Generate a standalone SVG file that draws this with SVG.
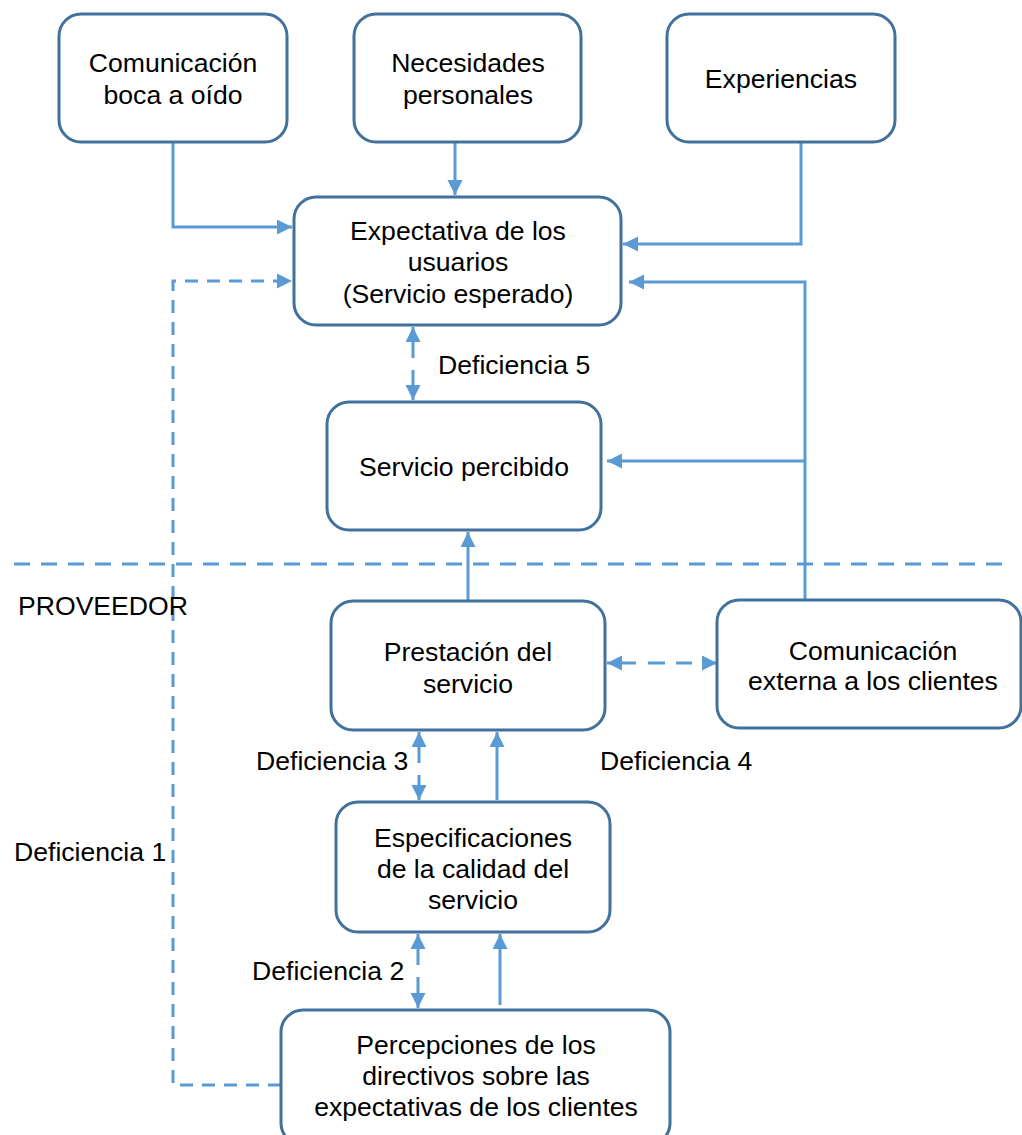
<svg xmlns="http://www.w3.org/2000/svg" width="1022" height="1135" viewBox="0 0 1022 1135">
<style>
.box{fill:#FFFFFF;stroke:#41719C;stroke-width:3}
.t{font-family:"Liberation Sans",Arial,sans-serif;font-size:26.6px;fill:#000000}
.c{text-anchor:middle}
.ln{fill:none;stroke:#5B9BD5;stroke-width:3}
.d{stroke-dasharray:13 9}
</style>
<defs>
<marker id="ah" markerUnits="userSpaceOnUse" markerWidth="16" markerHeight="16" refX="15" refY="7.5" orient="auto-start-reverse" viewBox="0 0 16 16">
<path d="M0,0 L15,7.5 L0,15 Z" fill="#5B9BD5"/>
</marker>
</defs>
<rect width="1022" height="1135" fill="#FFFFFF"/>
<g id="connectors">
<polyline class="ln" points="173,142 173,227 292,227" marker-end="url(#ah)"/>
<polyline class="ln d" points="281,1085 173,1085 173,281 292,281" marker-end="url(#ah)"/>
<line class="ln" x1="455" y1="142" x2="455" y2="195" marker-end="url(#ah)"/>
<polyline class="ln" points="801,142 801,244 623,244" marker-end="url(#ah)"/>
<polyline class="ln" points="805,600 805,282 629,282" marker-end="url(#ah)"/>
<line class="ln" x1="805" y1="461" x2="607" y2="461" marker-end="url(#ah)"/>
<line class="ln" x1="413" y1="327" x2="413" y2="400" style="stroke-dasharray:31 12" marker-start="url(#ah)" marker-end="url(#ah)"/>
<line class="ln" x1="468" y1="601" x2="468" y2="532" marker-end="url(#ah)"/>
<line class="ln" x1="14" y1="564" x2="1002" y2="564" style="stroke-dasharray:16 11"/>
<line class="ln" x1="607" y1="663" x2="717" y2="663" style="stroke-dasharray:29 12 17 11 16 12 20" marker-start="url(#ah)" marker-end="url(#ah)"/>
<line class="ln" x1="419" y1="732" x2="419" y2="800" style="stroke-dasharray:31 12" marker-start="url(#ah)" marker-end="url(#ah)"/>
<line class="ln" x1="497" y1="800" x2="497" y2="732" marker-end="url(#ah)"/>
<line class="ln" x1="418" y1="934" x2="418" y2="1008" style="stroke-dasharray:31 12" marker-start="url(#ah)" marker-end="url(#ah)"/>
<line class="ln" x1="500" y1="1005" x2="500" y2="934" marker-end="url(#ah)"/>
</g>
<g id="n1"><rect class="box" x="59" y="14" width="228" height="128" rx="22"/>
<text class="t c" x="173" y="72">Comunicación</text><text class="t c" x="173" y="104">boca a oído</text></g>
<g id="n2"><rect class="box" x="354" y="14" width="227" height="128" rx="22"/>
<text class="t c" x="468" y="72">Necesidades</text><text class="t c" x="468" y="104">personales</text></g>
<g id="n3"><rect class="box" x="667" y="14" width="228" height="128" rx="22"/>
<text class="t c" x="781" y="88">Experiencias</text></g>
<g id="n4"><rect class="box" x="294" y="197" width="327" height="128" rx="22"/>
<text class="t c" x="458" y="240">Expectativa de los</text><text class="t c" x="458" y="271">usuarios</text><text class="t c" x="458" y="303">(Servicio esperado)</text></g>
<g id="n5"><rect class="box" x="327" y="402" width="274" height="128" rx="22"/>
<text class="t c" x="464" y="476">Servicio percibido</text></g>
<g id="n6"><rect class="box" x="331" y="601" width="274" height="129" rx="22"/>
<text class="t c" x="468" y="661">Prestación del</text><text class="t c" x="468" y="693">servicio</text></g>
<g id="n7"><rect class="box" x="717" y="600" width="304" height="128" rx="22"/>
<text class="t c" x="873" y="660">Comunicación</text><text class="t c" x="873" y="690">externa a los clientes</text></g>
<g id="n8"><rect class="box" x="336" y="802" width="274" height="130" rx="22"/>
<text class="t c" x="473" y="847">Especificaciones</text><text class="t c" x="473" y="878">de la calidad del</text><text class="t c" x="473" y="909">servicio</text></g>
<g id="n9"><rect class="box" x="281" y="1010" width="389" height="135" rx="22"/>
<text class="t c" x="476" y="1054">Percepciones de los</text><text class="t c" x="476" y="1085">directivos sobre las</text><text class="t c" x="476" y="1116">expectativas de los clientes</text></g>
<g id="labels">
<text class="t" x="438" y="374">Deficiencia 5</text>
<text class="t" x="18" y="615">PROVEEDOR</text>
<text class="t" x="256" y="770">Deficiencia 3</text>
<text class="t" x="600" y="770">Deficiencia 4</text>
<text class="t" x="14" y="861">Deficiencia 1</text>
<text class="t" x="252" y="980">Deficiencia 2</text>
</g>
</svg>
